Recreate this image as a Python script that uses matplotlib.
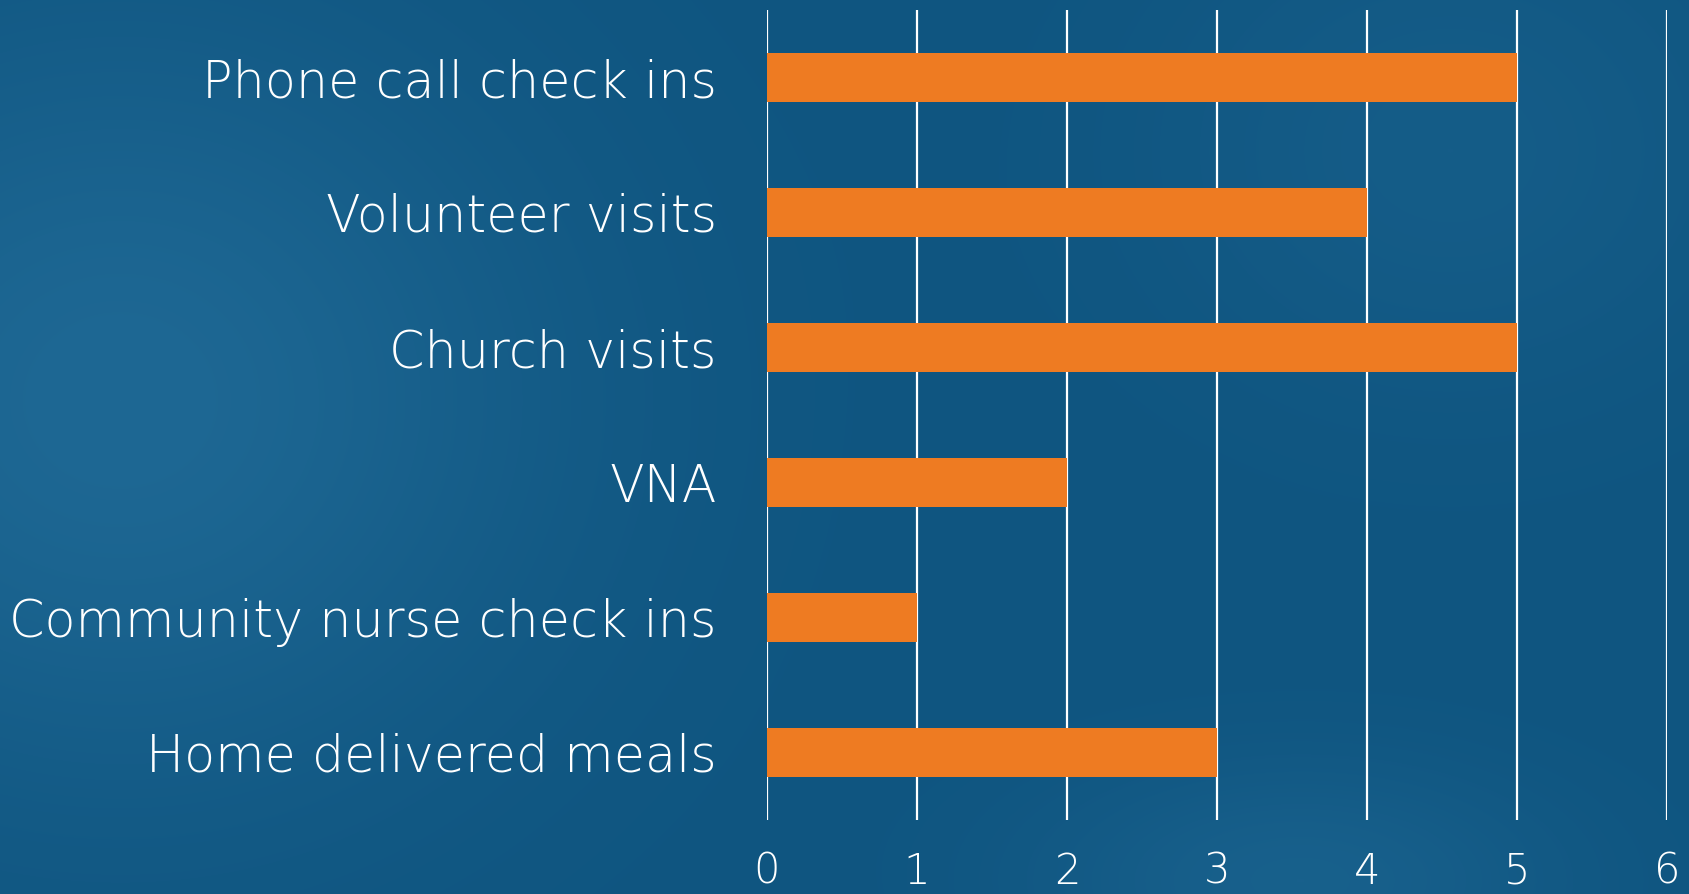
import numpy as np
import matplotlib
matplotlib.use("Agg")
import matplotlib.pyplot as plt

# data
categories = ["Phone call check ins", "Volunteer visits", "Church visits", "VNA",
              "Community nurse check ins", "Home delivered meals"]
values = [5, 4, 5, 2, 1, 3]
xticks = [0, 1, 2, 3, 4, 5, 6]

W, H = 1690, 894
fig = plt.figure(figsize=(W / 100, H / 100), dpi=100)

# background: dark blue with soft lighter glows
bg = fig.add_axes([0, 0, 1, 1], zorder=-1)
yy, xx = np.mgrid[0:H, 0:W]
base = np.array([15, 85, 128]) / 255.0
glow = np.array([30, 104, 148]) / 255.0
g1 = np.exp(-(((xx - 120) / 420.0) ** 2 + ((yy - 400) / 380.0) ** 2))
g2 = 0.6 * np.exp(-(((xx - 1300) / 260.0) ** 2 + ((yy - 880) / 120.0) ** 2))
g3 = 0.4 * np.exp(-(((xx - 1450) / 300.0) ** 2 + ((yy - 150) / 250.0) ** 2))
t = np.clip(g1 + g2 + g3, 0, 1)[..., None]
img = base * (1 - t) + glow * t
bg.imshow(img, aspect="auto", extent=[0, 1, 0, 1])
bg.axis("off")

ax = fig.add_axes([766.7 / W, 74 / H, 900.6 / W, 810 / H])
ax.patch.set_alpha(0)
y = np.arange(len(categories))
ax.barh(y, values, height=0.36, color="#EE7B22", zorder=2)
ax.set_ylim(len(categories) - 0.5, -0.5)
ax.set_xlim(0, 6)
ax.set_xticks(xticks)
ax.set_yticks(y)
ax.set_yticklabels(categories)
ax.grid(axis="x", color="white", linewidth=1.6, zorder=1)
ax.set_axisbelow(True)
for s in ax.spines.values():
    s.set_visible(False)
ax.tick_params(axis="y", length=0, pad=36, labelsize=36.5, labelcolor="white")
ax.tick_params(axis="x", length=0, pad=22, labelsize=30, labelcolor="white")
for lab in ax.get_yticklabels() + ax.get_xticklabels():
    lab.set_family("DejaVu Sans")
    lab.set_fontweight("light")

fig.savefig("out.png", dpi=100)
